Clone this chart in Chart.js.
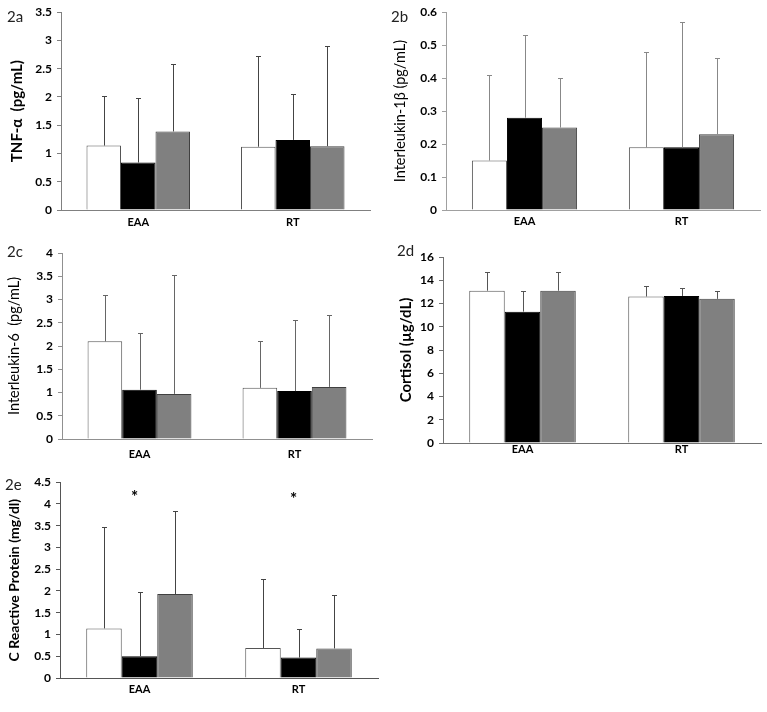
<!DOCTYPE html>
<html>
<head>
<meta charset="utf-8">
<script src="https://cdn.jsdelivr.net/npm/chart.js@4.4.1/dist/chart.umd.min.js"></script>
<style>
  body { margin: 0; background: #fff; }
  #page { position: relative; width: 767px; height: 712px; font-family: Lato, "Noto Sans", sans-serif; }
  .panel { position: absolute; }
  .tag { position: absolute; font-size: 15px; color: #222; }
</style>
</head>
<body>
<div id="page"></div>
<script>
// groups on the x axis
const groups = ['EAA', 'RT'];

// each panel: [white, black, gray] series, values are [EAA, RT]
const tnfMean = [[1.14, 1.12], [0.84, 1.24], [1.39, 1.13]];
const tnfSd = [[0.88, 1.61], [1.15, 0.81], [1.19, 1.77]];
const tnfTicks = { max: 3.5, step: 0.5 };

const il1Mean = [[0.15, 0.19], [0.28, 0.19], [0.25, 0.23]];
const il1Sd = [[0.26, 0.29], [0.25, 0.38], [0.15, 0.23]];
const il1Ticks = { max: 0.6, step: 0.1 };

const il6Mean = [[2.10, 1.10], [1.06, 1.03], [0.97, 1.12]];
const il6Sd = [[1.00, 1.00], [1.21, 1.53], [2.55, 1.55]];
const il6Ticks = { max: 4, step: 0.5 };

const cortMean = [[13.1, 12.6], [11.3, 12.65], [13.1, 12.4]];
const cortSd = [[1.6, 0.9], [1.8, 0.7], [1.6, 0.65]];
const cortTicks = { max: 16, step: 2 };

const crpMean = [[1.14, 0.69], [0.50, 0.47], [1.93, 0.68]];
const crpSd = [[2.32, 1.59], [1.48, 0.66], [1.90, 1.23]];
const crpTicks = { max: 4.5, step: 0.5 };
const crpStars = [4.25, 4.2];

const fills = ['#ffffff', '#000000', '#808080'];
const borders = ['#555555', '#000000', '#404040'];

// draws the upward error bars with small caps
const errorBars = {
  id: 'errorBars',
  afterDatasetsDraw(chart, args, opts) {
    const ctx = chart.ctx;
    const y = chart.scales.y;
    ctx.save();
    ctx.strokeStyle = opts.color;
    ctx.lineWidth = 1;
    chart.data.datasets.forEach((ds, i) => {
      chart.getDatasetMeta(i).data.forEach((bar, j) => {
        const x = Math.round(bar.x) + 0.5;
        const top = Math.round(y.getPixelForValue(ds.data[j] + ds.sd[j])) + 0.5;
        ctx.beginPath();
        ctx.moveTo(x, bar.y);
        ctx.lineTo(x, top);
        ctx.moveTo(x - 2.5, top);
        ctx.lineTo(x + 2.5, top);
        ctx.stroke();
      });
    });
    ctx.restore();
  }
};

// asterisks above the bars (panel 2e)
const stars = {
  id: 'stars',
  afterDatasetsDraw(chart, args, opts) {
    if (!opts.values) return;
    const ctx = chart.ctx;
    const meta = chart.getDatasetMeta(1);
    ctx.save();
    ctx.fillStyle = '#000';
    ctx.font = 'bold 17px Lato';
    ctx.textAlign = 'center';
    ctx.textBaseline = 'middle';
    opts.values.forEach((v, j) => {
      ctx.fillText('*', meta.data[j].x - 5, chart.scales.y.getPixelForValue(v) + 4);
    });
    ctx.restore();
  }
};

function makePanel(cfg) {
  const box = document.createElement('div');
  box.className = 'panel';
  box.style.left = cfg.box[0] + 'px';
  box.style.top = cfg.box[1] + 'px';
  const canvas = document.createElement('canvas');
  canvas.width = cfg.box[2];
  canvas.height = cfg.box[3];
  box.appendChild(canvas);
  document.getElementById('page').appendChild(box);

  const tag = document.createElement('div');
  tag.className = 'tag';
  tag.textContent = cfg.tag;
  tag.style.left = (cfg.box[0] + cfg.tagPos[0]) + 'px';
  tag.style.top = (cfg.box[1] + cfg.tagPos[1]) + 'px';
  document.getElementById('page').appendChild(tag);

  const [left, top, right, bottom] = cfg.area;
  const padLeft = cfg.padLeft;

  new Chart(canvas, {
    type: 'bar',
    data: {
      labels: groups,
      datasets: cfg.mean.map((vals, i) => ({
        data: vals,
        sd: cfg.sd[i],
        backgroundColor: fills[i],
        borderColor: borders[i],
        borderWidth: 1,
        borderSkipped: 'bottom',
        categoryPercentage: 0.67,
        barPercentage: 1.0
      }))
    },
    options: {
      responsive: false,
      animation: false,
      devicePixelRatio: 1,
      layout: { padding: { left: padLeft, top: top, right: cfg.box[2] - right, bottom: 0 } },
      plugins: {
        legend: { display: false },
        tooltip: { enabled: false },
        errorBars: { color: cfg.errColor },
        stars: { values: cfg.stars }
      },
      scales: {
        x: {
          grid: { display: false, drawTicks: false },
          border: { color: cfg.axisColor, width: 1 },
          ticks: { color: '#000', padding: cfg.xPad, font: { family: 'Lato', size: 11, weight: 'bold' } },
          afterFit(s) { s.height = cfg.box[3] - bottom; }
        },
        y: {
          min: 0,
          max: cfg.ticks.max,
          ticks: {
            stepSize: cfg.ticks.step,
            color: '#000',
            padding: 5,
            font: { family: 'Lato', size: 12, weight: 'bold' },
            callback: v => String(+v.toFixed(2))
          },
          grid: { drawOnChartArea: false, tickLength: 4, color: cfg.axisColor },
          border: { color: cfg.axisColor, width: 1 },
          title: {
            display: true,
            text: cfg.title,
            color: '#000',
            padding: { top: 0, bottom: 0 },
            font: { family: 'Lato', size: cfg.titleSize, weight: cfg.titleWeight }
          },
          afterFit(s) { s.width = left - padLeft; }
        }
      }
    },
    plugins: [errorBars, stars]
  });
}

makePanel({ tag: '2a', box: [0, 0, 384, 235], tagPos: [7, 7], area: [61, 11, 370, 210], padLeft: 8,
  mean: tnfMean, sd: tnfSd, ticks: tnfTicks, title: 'TNF-α  (pg/mL)', titleSize: 15, titleWeight: 'bold',
  axisColor: '#808080', errColor: '#444', xPad: 6 });

makePanel({ tag: '2b', box: [384, 0, 383, 235], tagPos: [7, 7], area: [62, 11, 376, 210], padLeft: 8,
  mean: il1Mean, sd: il1Sd, ticks: il1Ticks, title: 'Interleukin-1β (pg/mL)', titleSize: 14.5, titleWeight: 'normal',
  axisColor: '#a0a0a0', errColor: '#888', xPad: 5 });

makePanel({ tag: '2c', box: [0, 235, 384, 235], tagPos: [7, 7], area: [62, 18, 372, 204], padLeft: 6,
  mean: il6Mean, sd: il6Sd, ticks: il6Ticks, title: 'Interleukin-6  (pg/mL)', titleSize: 14.5, titleWeight: 'normal',
  axisColor: '#909090', errColor: '#666', xPad: 9 });

makePanel({ tag: '2d', box: [384, 235, 383, 235], tagPos: [13, 6], area: [59, 22, 377, 208], padLeft: 13,
  mean: cortMean, sd: cortSd, ticks: cortTicks, title: 'Cortisol (µg/dL)', titleSize: 15, titleWeight: 'bold',
  axisColor: '#707070', errColor: '#555', xPad: 0 });

makePanel({ tag: '2e', box: [0, 470, 384, 242], tagPos: [5, 5], area: [60, 11, 378, 208], padLeft: 6,
  mean: crpMean, sd: crpSd, ticks: crpTicks, title: 'C Reactive Protein (mg/dl)', titleSize: 14, titleWeight: 'bold',
  axisColor: '#555555', errColor: '#444', xPad: 5, stars: crpStars });
</script>
</body>
</html>
